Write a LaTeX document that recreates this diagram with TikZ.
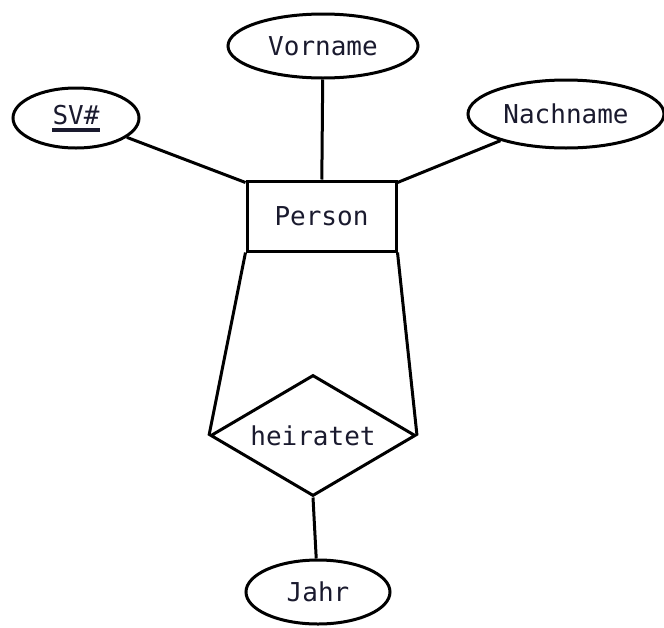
\documentclass[tikz,border=0pt]{standalone}
\usepackage{fontspec}
\newfontfamily\ermono{DejaVu Sans Mono}
\usetikzlibrary{shapes.geometric}
\definecolor{ink}{HTML}{1A1A2E}
\begin{document}
\begin{tikzpicture}[x=1pt,y=-1pt,
  every node/.style={font=\ermono\fontsize{26}{30}\selectfont, text=ink},
  attr/.style={draw, ellipse, line width=3pt, inner sep=0pt},
  entity/.style={draw, rectangle, line width=3pt, inner sep=0pt},
  rel/.style={draw, diamond, line width=3pt, inner sep=0pt, aspect=1.7},
  link/.style={line width=3pt}]
\useasboundingbox (0,0) rectangle (664,627);
% entity and relationship
\node[entity, minimum width=149pt, minimum height=70pt] (person) at (321.5,216) {Person};
\node[rel, minimum width=205pt, minimum height=121pt] (heiratet) at (313,435.5) {heiratet};
% attributes
\node[attr, minimum width=126pt, minimum height=60pt] (sv) at (76,118) {};
\node[inner sep=0pt] (svtxt) at (76,115) {SV\#};
\node[attr, minimum width=190pt, minimum height=64pt] (vorname) at (323,46) {Vorname};
\node[attr, minimum width=196pt, minimum height=68pt] (nachname) at (566,114) {Nachname};
\node[attr, minimum width=144pt, minimum height=64pt] (jahr) at (318,592) {Jahr};
% key underline
\draw[line width=4pt, ink] ([yshift=-6pt]svtxt.base west) -- ([yshift=-6pt]svtxt.base east);
% connectors
\draw[link] (sv) -- ([yshift=-3pt]person.north west);
\draw[link] (vorname) -- (person);
\draw[link] (nachname) -- ([yshift=-3pt]person.north east);
\draw[link] (person.south west) -- (heiratet.west);
\draw[link] (person.south east) -- (heiratet.east);
\draw[link] (heiratet.south) -- (jahr);
\end{tikzpicture}
\end{document}
